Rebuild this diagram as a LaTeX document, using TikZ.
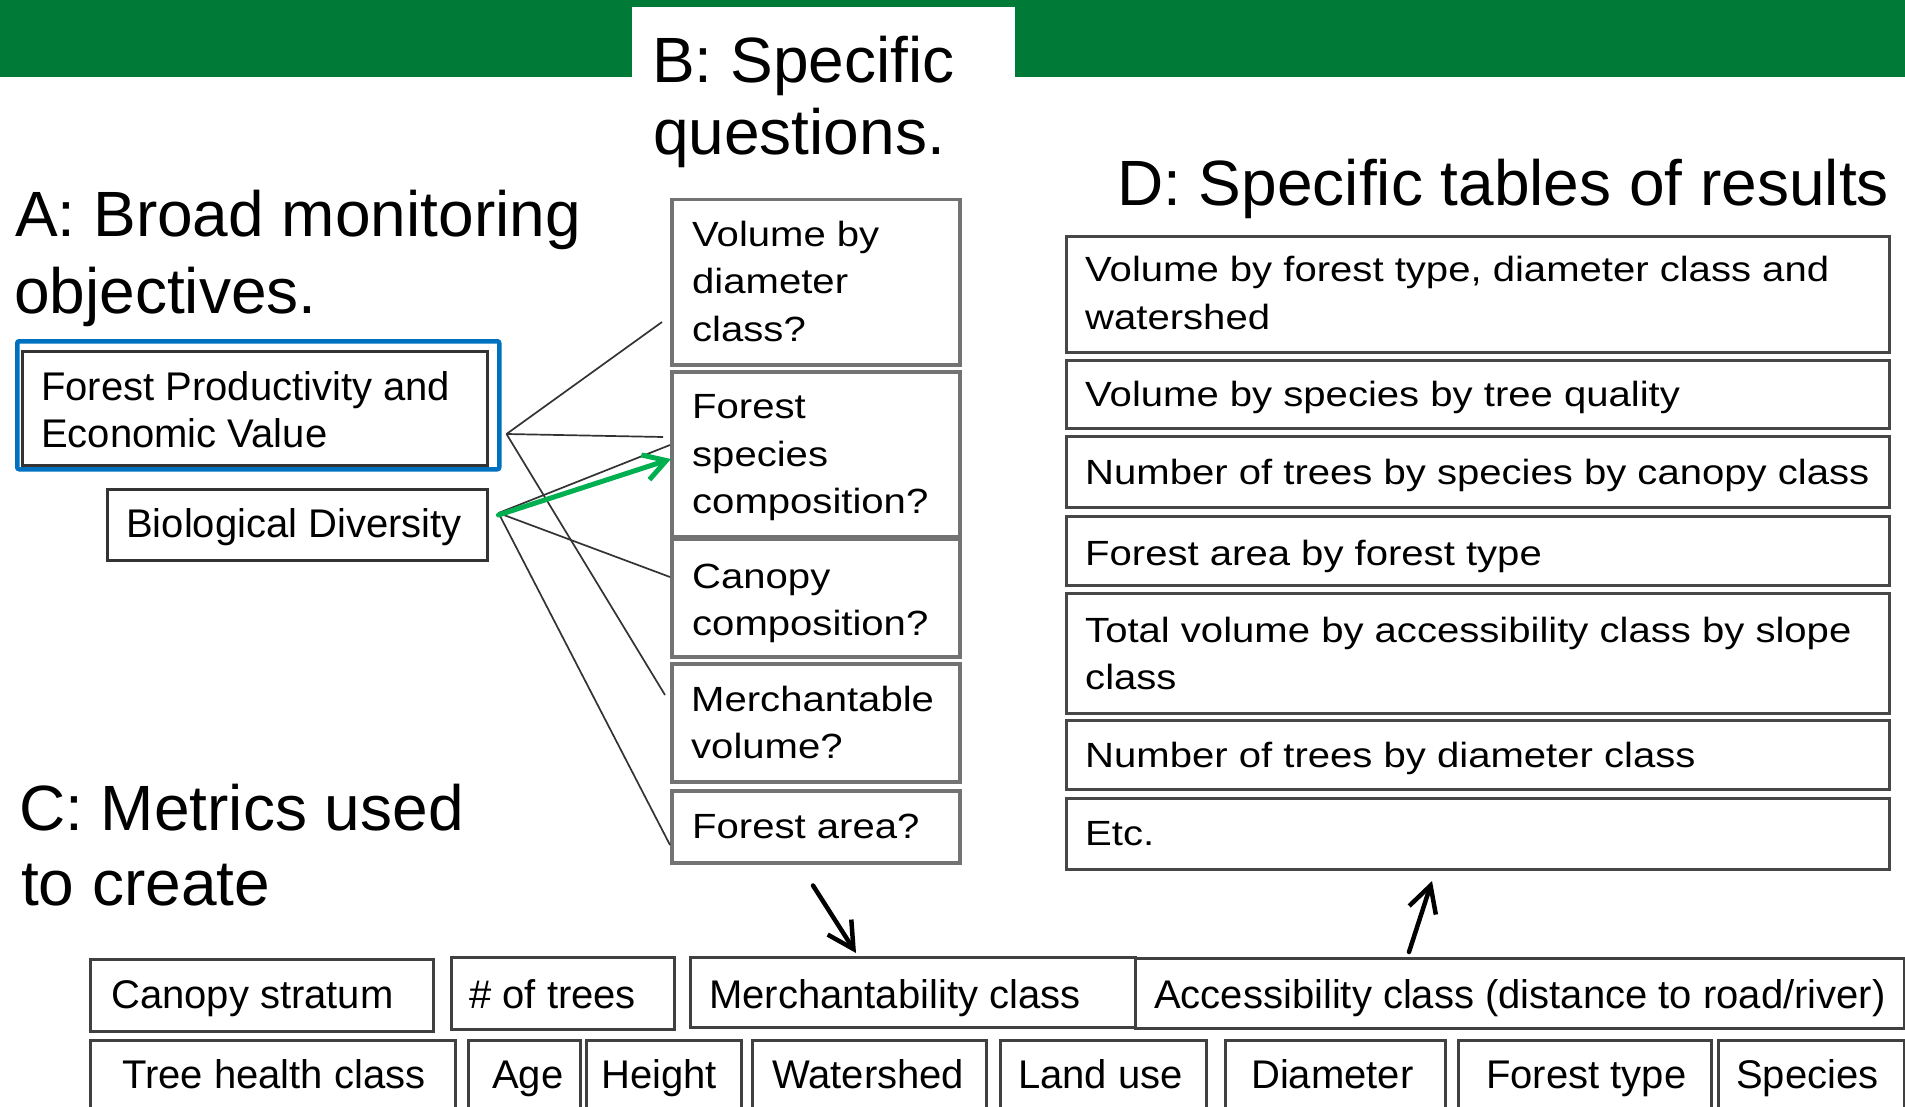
\documentclass[tikz,border=0pt]{standalone}
\usepackage{fontspec}
\setmainfont{Liberation Sans}
\newfontfamily\widefont[FakeStretch=1.145]{Liberation Sans}
\usetikzlibrary{calc,arrows.meta}
\definecolor{bargreen}{RGB}{0,122,55}
\definecolor{arrowgreen}{RGB}{0,176,80}
\definecolor{selblue}{RGB}{0,112,192}
\definecolor{qgray}{RGB}{115,115,115}
\newcommand\bx[6]{\node[#1,anchor=north west,minimum width={(#5-#3)*1pt},minimum height={(#6-#4)*1pt}] (#2) at (#3,#4) {};}
\newcommand\tx[5]{\node[#1,anchor=base west,inner sep=0pt] (#2) at (#3,#4) {#5};}
\tikzset{
  qbox/.style={draw=qgray,line width=3.5pt,inner sep=0pt},
  dbox/.style={draw=black!72,line width=3pt,inner sep=0pt},
  lbox/.style={draw=black!80,line width=2.5pt,inner sep=0pt},
  cbox/.style={draw=black!75,line width=2.5pt,inner sep=0pt},
  selbox/.style={draw=selblue,line width=4.5pt,rounded corners=2pt,inner sep=0pt},
  title/.style={font=\fontsize{64}{75}\selectfont},
  btext/.style={font=\fontsize{40}{47}\selectfont},
  wtext/.style={font=\widefont\fontsize{35}{47}\selectfont},
  conn/.style={draw=black!80,line width=1.7pt},
  handarrow/.style={line width=4.5pt,line cap=round,-{Straight Barb[length=26pt,width=28pt,line width=4.5pt]}},
  greenarrow/.style={draw=arrowgreen,line width=5pt,line cap=round,-{Straight Barb[length=22pt,width=26pt,line width=5pt]}}
}
\begin{document}
\begin{tikzpicture}[x=1pt,y=-1pt]
\useasboundingbox (0,0) rectangle (1905,1107);
\clip (0,0) rectangle (1905,1107);
% header bar
\fill[bargreen] (0,0) rectangle (1905,77);
\fill[white] (632,7) rectangle (1015,80);
% titles
\tx{title}{tA1}{15}{237}{A: Broad monitoring}
\tx{title}{tA2}{14}{313}{objectives.}
\tx{title}{tB1}{652}{83}{B: Specific}
\tx{title}{tB2}{653}{155}{questions.}
\tx{title}{tC1}{19}{830}{C: Metrics used}
\tx{title}{tC2}{21}{905}{to create}
\tx{title}{tD}{1117}{206}{D: Specific tables of results}
% A boxes
\bx{selbox}{fpsel}{15}{339}{497}{467}
\bx{lbox}{fp}{21}{350}{486}{464}
\tx{btext}{fpt1}{41}{400}{Forest Productivity and}
\tx{btext}{fpt2}{41}{447}{Economic Value}
\bx{lbox}{bd}{106}{488}{486}{559}
\tx{btext}{bdt}{126}{537}{Biological Diversity}
% B boxes
\bx{qbox}{q1}{670}{198}{958}{363}
\bx{qbox}{q2}{670}{370}{958}{535}
\bx{qbox}{q3}{670}{537}{958}{655}
\bx{qbox}{q4}{670}{662}{958}{780}
\bx{qbox}{q5}{670}{789}{958}{861}
\tx{wtext}{q1a}{692}{247}{Volume by}
\tx{wtext}{q1b}{692}{294}{diameter}
\tx{wtext}{q1c}{692}{341}{class?}
\tx{wtext}{q2a}{692}{418}{Forest}
\tx{wtext}{q2b}{692}{466}{species}
\tx{wtext}{q2c}{692}{513}{composition?}
\tx{wtext}{q3a}{692}{588}{Canopy}
\tx{wtext}{q3b}{692}{635}{composition?}
\tx{wtext}{q4a}{691}{711}{Merchantable}
\tx{wtext}{q4b}{691}{758}{volume?}
\tx{wtext}{q5a}{692}{838}{Forest area?}
% D boxes
\bx{dbox}{d1}{1065}{235}{1888}{351}
\bx{dbox}{d2}{1065}{359}{1888}{427}
\bx{dbox}{d3}{1065}{435}{1888}{506}
\bx{dbox}{d4}{1065}{515}{1888}{584}
\bx{dbox}{d5}{1065}{592}{1888}{712}
\bx{dbox}{d6}{1065}{719}{1888}{788}
\bx{dbox}{d7}{1065}{797}{1888}{868}
\tx{wtext}{d1a}{1085}{281}{Volume by forest type, diameter class and}
\tx{wtext}{d1b}{1085}{329}{watershed}
\tx{wtext}{d2a}{1085}{406}{Volume by species by tree quality}
\tx{wtext}{d3a}{1085}{484}{Number of trees by species by canopy class}
\tx{wtext}{d4a}{1085}{565}{Forest area by forest type}
\tx{wtext}{d5a}{1085}{642}{Total volume by accessibility class by slope}
\tx{wtext}{d5b}{1085}{689}{class}
\tx{wtext}{d6a}{1085}{767}{Number of trees by diameter class}
\tx{wtext}{d7a}{1085}{845}{Etc.}
% C boxes
\bx{cbox}{cs}{89}{958}{432}{1030}
\bx{cbox}{nt}{450}{956}{673}{1028}
\bx{cbox}{mc}{689}{956}{1134}{1026}
\bx{cbox}{ac}{1134}{957}{1903}{1027}
\bx{cbox}{th}{89}{1039}{454}{1120}
\bx{cbox}{ag}{467}{1039}{579}{1120}
\bx{cbox}{ht}{585}{1039}{740}{1120}
\bx{cbox}{ws}{751}{1039}{985}{1120}
\bx{cbox}{lu}{999}{1039}{1205}{1120}
\bx{cbox}{dm}{1224}{1039}{1444}{1120}
\bx{cbox}{ft}{1457}{1039}{1710}{1120}
\bx{cbox}{sp}{1717}{1039}{1903}{1120}
\tx{btext}{cst}{111}{1008}{Canopy stratum}
\tx{btext}{ntt}{469}{1008}{\# of trees}
\tx{btext}{mct}{709}{1008}{Merchantability class}
\tx{btext}{act}{1154}{1008}{Accessibility class (distance to road/river)}
\tx{btext}{tht}{122}{1088}{Tree health class}
\tx{btext}{agt}{492}{1088}{Age}
\tx{btext}{htt}{601}{1088}{Height}
\tx{btext}{wst}{772}{1088}{Watershed}
\tx{btext}{lut}{1018}{1088}{Land use}
\tx{btext}{dmt}{1251}{1088}{Diameter}
\tx{btext}{ftt}{1486}{1088}{Forest type}
\tx{btext}{spt}{1736}{1088}{Species}
% connectors
\coordinate (fpOut) at ($(fpsel.north east)+(5,95)$);
\coordinate (bdOut) at ($(bd.north east)+(10,25)$);
\draw[conn] (fpOut) -- ($(q1.north west)+(-8,124)$);
\draw[conn] (fpOut) -- ($(q2.north west)+(-7,67)$);
\draw[conn] (fpOut) -- ($(q4.north west)+(-5,33)$);
\draw[conn] (bdOut) -- ($(q2.north west)+(0,75)$);
\draw[conn] (bdOut) -- ($(q3.north west)+(0,40)$);
\draw[conn] (bdOut) -- ($(q5.north west)+(0,56)$);
\draw[greenarrow] ($(bd.north east)+(10,27)$) -- ($(q2.north west)+(1,89)$);
% hand-drawn arrows
\coordinate (dnStart) at ($(q5.south west)+(143,21)$);
\draw[handarrow] (dnStart) -- ($(mc.north west)+(167,-3)$);
\coordinate (upEnd) at ($(d7.south west)+(367,10)$);
\draw[handarrow] ($(ac.north west)+(275,-5)$) -- (upEnd);
\end{tikzpicture}
\end{document}
